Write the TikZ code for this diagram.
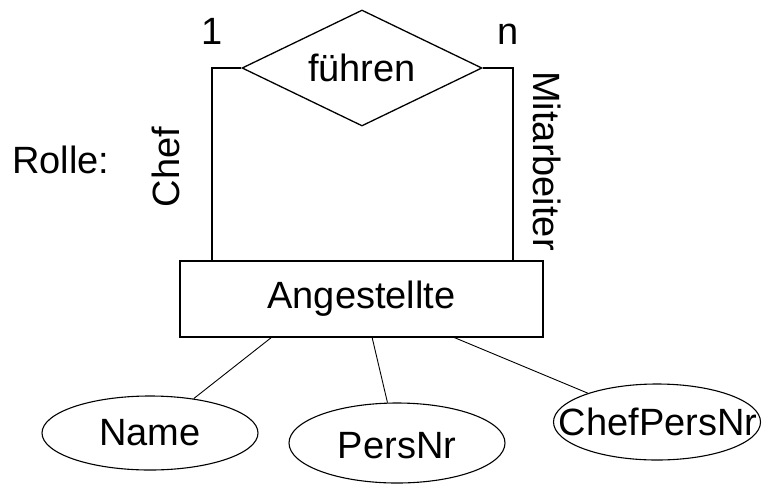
\documentclass[tikz,border=0pt]{standalone}
\usepackage{fontspec}
\setmainfont{Liberation Sans}
\usetikzlibrary{shapes.geometric}
\newcommand{\zw}[1]{\makebox[0pt]{\smash{#1}}}
\begin{document}
\begin{tikzpicture}[x=1pt,y=-1pt,
  every node/.style={font=\fontsize{38}{44}\selectfont},
  shapeline/.style={draw=black,line width=1.3pt},
  rel/.style={shapeline,diamond,aspect=2.07,inner sep=0pt,minimum width=240pt,minimum height=116pt},
  ent/.style={shapeline,rectangle,inner sep=0pt,minimum width=363pt,minimum height=76pt},
  attr/.style={draw=black,line width=1.1pt,ellipse,inner sep=0pt},
  conn/.style={draw=black,line width=1.3pt},
  aconn/.style={draw=black,line width=0.9pt}]
\useasboundingbox (0,0) rectangle (762,493);
\node[rel] (d) at (362,68) {\zw{}};
\node (dl) at (362,68) {führen};
\node[ent] (e) at (361.5,299) {Angestellte};
\node[attr,minimum width=216pt,minimum height=74pt] (name) at (150,433) {\zw{}};
\node (namel) at (name) {Name};
\node[attr,minimum width=216pt,minimum height=80pt] (pers) at (397,443) {\zw{}};
\node (persl) at (397,446) {PersNr};
\node[attr,minimum width=207pt,minimum height=76pt] (chef) at (657,422) {\zw{}};
\node (chefll) at (658,422) {ChefPersNr};
\coordinate (cl) at (212,261);
\coordinate (cr) at (513,261);
\draw[conn] (d.west) -| (cl);
\draw[conn] (d.east) -| (cr);
\coordinate (b1) at (272,337);
\coordinate (b2) at (372,337);
\coordinate (b3) at (453,337);
\draw[aconn] (b1) -- (name);
\draw[aconn] (b2) -- (pers);
\draw[aconn] (b3) -- (chef);
\node[anchor=base] (one) at (212,44) {1};
\node[anchor=base] (n) at (508,44) {n};
\node (rolle) at (61,160) {Rolle:};
\node[rotate=90] (chefl) at (166,167) {Chef};
\node[rotate=-90] (mit) at (547,161) {Mitarbeiter};
\end{tikzpicture}
\end{document}
